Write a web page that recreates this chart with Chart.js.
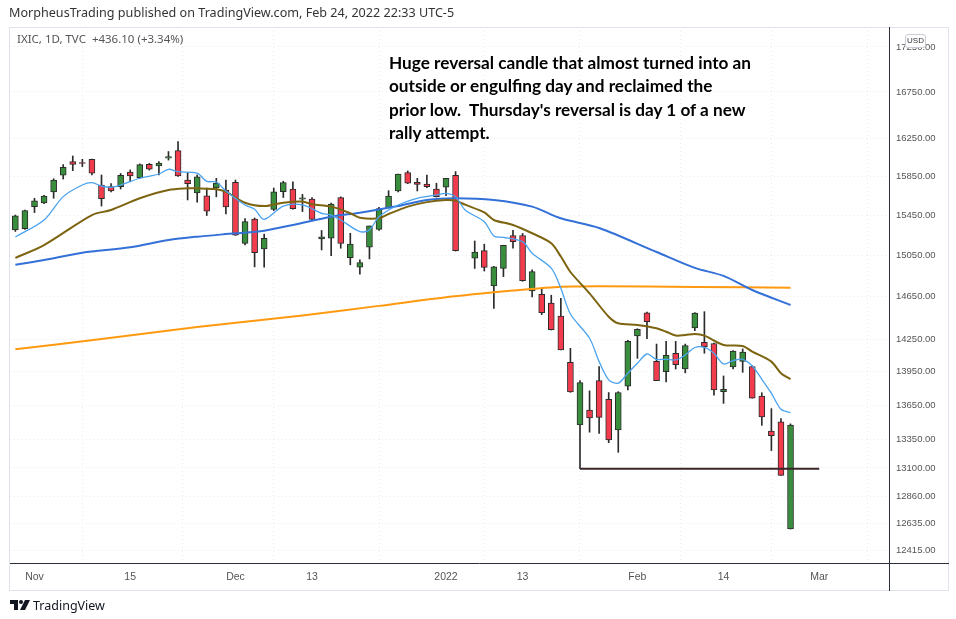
<!DOCTYPE html>
<html>
<head>
<meta charset="utf-8">
<script src="https://cdn.jsdelivr.net/npm/chart.js@4.4.1/dist/chart.umd.min.js"></script>
<style>
  html, body { margin: 0; padding: 0; background: #fff; }
  #wrap { position: relative; width: 956px; height: 619px; overflow: hidden; }
  #chart { position: absolute; left: 0; top: 0; }
  .txt { position: absolute; white-space: pre; }
  #pub { left: 9px; top: 4px; font: 12.6px "Noto Sans", sans-serif; color: #333; }
  #sym { left: 17px; top: 31px; font: 11.5px "Noto Sans", sans-serif; color: #555; }
  #note { left: 389px; top: 51px; font: bold 17.2px Lato, sans-serif; line-height: 23.3px; color: #000; }
  #usd { left: 905px; top: 34px; width: 19px; height: 12px; border: 1px solid #c9ccd4; border-radius: 3px;
         background: #fff; font: 8px "Liberation Sans", sans-serif; color: #333; text-align: center; line-height: 12px; }
  #logo { left: 10px; top: 598px; }
  #tv { left: 33px; top: 597px; font: 12.5px "Noto Sans", sans-serif; color: #131722; }
</style>
</head>
<body>
<div id="wrap">
  <canvas id="chart" width="956" height="619"></canvas>
  <div class="txt" id="pub">MorpheusTrading published on TradingView.com, Feb 24, 2022 22:33 UTC-5</div>
  <div class="txt" id="sym">IXIC, 1D, TVC  +436.10 (+3.34%)</div>
  <div class="txt" id="note">Huge reversal candle that almost turned into an
outside or engulfing day and reclaimed the
prior low.  Thursday's reversal is day 1 of a new
rally attempt.</div>
  <div class="txt" id="usd">USD</div>
  <svg class="txt" id="logo" width="22" height="14" viewBox="0 0 22 14">
    <path d="M0 2h8v10H4V6H0z" fill="#131722"/>
    <circle cx="11" cy="4" r="2" fill="#131722"/>
    <path d="M15 2h5l-5 10h-5z" fill="#131722"/>
  </svg>
  <div class="txt" id="tv">TradingView</div>
</div>
<script>
// trading days shown (Jan 5 has no candle in the picture)
const dates = [
  '2021-10-28','2021-10-29',
  '2021-11-01','2021-11-02','2021-11-03','2021-11-04','2021-11-05',
  '2021-11-08','2021-11-09','2021-11-10','2021-11-11','2021-11-12',
  '2021-11-15','2021-11-16','2021-11-17','2021-11-18','2021-11-19',
  '2021-11-22','2021-11-23','2021-11-24','2021-11-26',
  '2021-11-29','2021-11-30','2021-12-01','2021-12-02','2021-12-03',
  '2021-12-06','2021-12-07','2021-12-08','2021-12-09','2021-12-10',
  '2021-12-13','2021-12-14','2021-12-15','2021-12-16','2021-12-17',
  '2021-12-20','2021-12-21','2021-12-22','2021-12-23',
  '2021-12-27','2021-12-28','2021-12-29','2021-12-30','2021-12-31',
  '2022-01-03','2022-01-04','2022-01-05','2022-01-06','2022-01-07',
  '2022-01-10','2022-01-11','2022-01-12','2022-01-13','2022-01-14',
  '2022-01-18','2022-01-19','2022-01-20','2022-01-21',
  '2022-01-24','2022-01-25','2022-01-26','2022-01-27','2022-01-28',
  '2022-01-31','2022-02-01','2022-02-02','2022-02-03','2022-02-04',
  '2022-02-07','2022-02-08','2022-02-09','2022-02-10','2022-02-11',
  '2022-02-14','2022-02-15','2022-02-16','2022-02-17','2022-02-18',
  '2022-02-22','2022-02-23','2022-02-24'
];
const futureDates = ['2022-02-25','2022-02-28','2022-03-01','2022-03-02','2022-03-03','2022-03-04',
  '2022-03-07','2022-03-08','2022-03-09','2022-03-10','2022-03-11'];

const opens = [
  15305,15318,15540,15578,15690,15862,16004,15994,16028,15760,
  15745,15745,15896,15837,15976,15960,16040,16120,15813,15680,
  15650,15730,15710,15790,15172,15415,15116,15513,15692,15720,
  15615,15618,15215,15222,15632,15030,14937,15133,15310,15530,
  15700,15890,15790,15770,15720,15738,15860,null,15025,15100,
  14755,14925,15250,15250,14707,14675,14590,14466,14037,13474,
  13606,13870,13700,13430,13820,14280,14497,14045,13950,14120,
  13975,14355,14222,14210,13770,13995,14045,13997,13730,13420,
  13500,12588
];
const highs = [
  15455,15505,15625,15655,15826,15973,16063,16028,16030,15865,
  15775,15880,15917,15980,15985,16004,16110,16214,15890,15865,
  15730,15830,15813,15813,15420,15425,15263,15730,15800,15793,
  15665,15632,15300,15575,15640,15272,15008,15345,15532,15703,
  15873,15907,15830,15865,15780,15830,15900,null,15195,15163,
  14945,15153,15300,15270,14910,14736,14666,14636,14165,13870,
  13777,13997,13762,13770,14240,14348,14506,14205,14230,14230,
  14205,14500,14509,14215,13912,14145,14160,14005,13760,13618,
  13530,13483
];
const lows = [
  15290,15310,15480,15570,15625,15823,15910,15952,15865,15546,
  15690,15720,15795,15830,15915,15865,16020,15850,15608,15585,
  15450,15640,15465,15250,15155,14940,14937,15500,15633,15515,
  15490,15405,15106,15050,15123,14960,14870,15018,15300,15525,
  15690,15775,15700,15735,15638,15652,15095,null,14925,14900,
  14540,14845,15123,14800,14650,14480,14336,14150,13764,13094,
  13410,13400,13318,13235,13786,14073,14256,13870,13858,13975,
  13940,14330,14120,13738,13665,13975,13945,13711,13470,13250,
  13037,12588
];
const closes = [
  15448,15500,15600,15648,15813,15945,15976,15984,15883,15622,
  15700,15860,15855,15973,15924,15990,16057,15854,15775,15845,
  15495,15782,15537,15254,15388,15080,15222,15692,15785,15520,
  15630,15410,15237,15566,15170,15165,14983,15345,15520,15648,
  15873,15780,15766,15745,15641,15830,15100,null,15085,14935,
  14940,15153,15188,14806,14893,14500,14340,14150,13768,13852,
  13535,13540,13342,13762,14230,14343,14415,13870,14100,14015,
  14190,14495,14180,13785,13790,14140,14130,13711,13545,13380,
  13037,13473
];

// moving averages (null = not read at that day)
const ma10 = [
  15235,null,null,15405,null,15642,null,15761,15785,15751,
  15738,15761,null,15831,null,15875,15924,15899,null,15883,
  15799,15792,15700,null,15557,15513,15412,null,15546,null,
  15557,null,15472,15455,15405,null,15288,15305,15438,null,
  15557,null,15625,null,15659,15676,15642,15506,null,15388,
  15245,15232,null,15188,15074,null,14927,14733,14487,null,
  14259,14043,13876,13846,13937,14028,14113,14064,14064,14058,
  14104,14173,14175,14120,14022,14052,14064,14003,13882,13756,
  13612,13583
];
const ma21 = [
  15028,null,null,15155,null,null,null,null,15455,null,
  15506,null,null,15625,null,null,15710,null,15727,15727,
  null,15717,15690,null,15580,null,15546,null,15580,null,
  15591,15564,null,15540,null,15473,15428,null,15422,15465,
  null,15540,null,15586,null,15608,15601,15560,null,15481,
  15405,null,15355,null,15272,null,15172,15041,14890,null,
  14684,null,14461,14399,null,14383,null,14352,14320,14284,
  14289,14299,14283,null,14197,null,14187,14135,null,14043,
  13937,13882
];
const ma50 = [
  14960,null,null,15008,null,null,null,15079,null,null,
  null,null,15132,null,null,null,15205,null,null,15238,
  null,null,null,15271,null,null,15298,null,null,15355,
  null,null,null,15438,null,null,15479,null,null,null,
  15546,null,null,15608,null,null,15625,null,null,null,
  15608,null,null,null,15540,null,null,15422,null,null,
  null,15325,null,null,null,null,null,15086,null,null,
  null,14930,null,null,14852,null,null,14716,null,null,
  null,14572
];
const ma200 = [
  14157,null,null,null,null,null,null,null,null,14252,
  null,null,null,null,null,null,null,null,null,14364,
  null,null,null,null,null,null,null,null,null,null,
  14473,null,null,null,null,null,null,null,14564,null,
  null,null,null,null,null,14647,null,null,null,null,
  null,null,14711,null,null,null,14741,null,null,null,
  null,14751,null,null,null,null,null,null,null,null,
  null,14745,null,null,null,null,null,null,null,null,
  null,14738
];

const supportLevel = 13094;
const supportFrom = '2022-01-24';
const supportTo = '2022-03-01';

const xTickDates = ['2021-11-01','2021-11-15','2021-12-01','2021-12-13','2022-01-03',
  '2022-01-13','2022-02-01','2022-02-14','2022-03-01'];
const xTickLabels = ['Nov','15','Dec','13','2022','13','Feb','14','Mar'];
const priceTicks = [12415,12635,12860,13100,13350,13650,13950,14250,14650,15050,
  15450,15850,16250,16750,17250];

const axisDates = dates.concat(futureDates);
const xTickIdx = xTickDates.map(d => axisDates.indexOf(d));

const UP = '#388e3c', DOWN = '#f23c4e', EDGE = '#2b2b2b';

const wickData = [], bodyData = [], bodyColors = [];
dates.forEach((d, i) => {
  if (opens[i] == null) return;
  wickData.push({ x: i, y: [lows[i], highs[i]] });
  bodyData.push({ x: i, y: [opens[i], closes[i]] });
  bodyColors.push(closes[i] >= opens[i] ? UP : DOWN);
});

const toPoints = arr => arr.map((v, i) => v == null ? null : { x: i, y: v }).filter(Boolean);

const lineDs = (label, arr, color, width) => ({
  type: 'line', label, data: toPoints(arr), borderColor: color, borderWidth: width,
  pointRadius: 0, tension: 0.3, fill: false
});

const framePlugin = {
  id: 'frame',
  afterDraw(chart) {
    const ctx = chart.ctx;
    const a = chart.chartArea;
    ctx.save();
    ctx.lineWidth = 1;
    ctx.strokeStyle = '#e0e3eb';
    ctx.strokeRect(9.5, 27.5, 939, 563);
    ctx.strokeStyle = '#2a2e39';
    ctx.beginPath();
    ctx.moveTo(Math.round(a.right) + 0.5, 27);
    ctx.lineTo(Math.round(a.right) + 0.5, 591);
    ctx.moveTo(10, Math.round(a.bottom) + 0.5);
    ctx.lineTo(949, Math.round(a.bottom) + 0.5);
    ctx.stroke();
    ctx.restore();
  }
};

new Chart(document.getElementById('chart'), {
  type: 'bar',
  data: {
    datasets: [
      {
        type: 'line', label: 'support',
        data: [{ x: axisDates.indexOf(supportFrom), y: supportLevel }, { x: axisDates.indexOf(supportTo), y: supportLevel }],
        borderColor: '#3a2626', borderWidth: 2, pointRadius: 0
      },
      lineDs('MA10', ma10, '#4aa3f0', 1.3),
      lineDs('MA21', ma21, '#7d6410', 2),
      lineDs('MA50', ma50, '#3370d8', 2),
      lineDs('MA200', ma200, '#ff9a10', 2),
      {
        label: 'body', data: bodyData, grouped: false, barThickness: 6, minBarLength: 1,
        backgroundColor: bodyColors, borderColor: EDGE, borderWidth: 1, borderSkipped: false
      },
      {
        label: 'wick', data: wickData, grouped: false, barThickness: 1,
        backgroundColor: EDGE, borderWidth: 0
      }
    ]
  },
  options: {
    responsive: false,
    devicePixelRatio: 1,
    animation: false,
    layout: { padding: { left: 10, right: 8, top: 27, bottom: 29 } },
    plugins: { legend: { display: false }, tooltip: { enabled: false } },
    scales: {
      x: {
        type: 'linear', min: -0.56, max: 91.29, offset: false,
        grid: { color: '#ebecf0', drawTicks: false },
        border: { display: false, dash: [1, 3] },
        ticks: {
          padding: 8, color: '#555', autoSkip: false, maxRotation: 0,
          font: { family: 'Liberation Sans', size: 10.5 },
          callback: (v, i) => xTickLabels[i]
        },
        afterBuildTicks: s => { s.ticks = xTickIdx.map(v => ({ value: v })); },
        afterFit: s => { s.height = 27; }
      },
      y: {
        type: 'logarithmic', position: 'right', min: 12311, max: 17476,
        grid: { color: '#ebecf0', drawTicks: false },
        border: { display: false, dash: [1, 3] },
        ticks: {
          padding: 7, color: '#555', autoSkip: false,
          font: { family: '"Liberation Sans Narrow", "Liberation Sans"', size: 9.5 },
          callback: v => Number(v).toFixed(2)
        },
        afterBuildTicks: s => { s.ticks = priceTicks.map(v => ({ value: v })); },
        afterFit: s => { s.width = 59; }
      }
    }
  },
  plugins: [framePlugin]
});
</script>
</body>
</html>
